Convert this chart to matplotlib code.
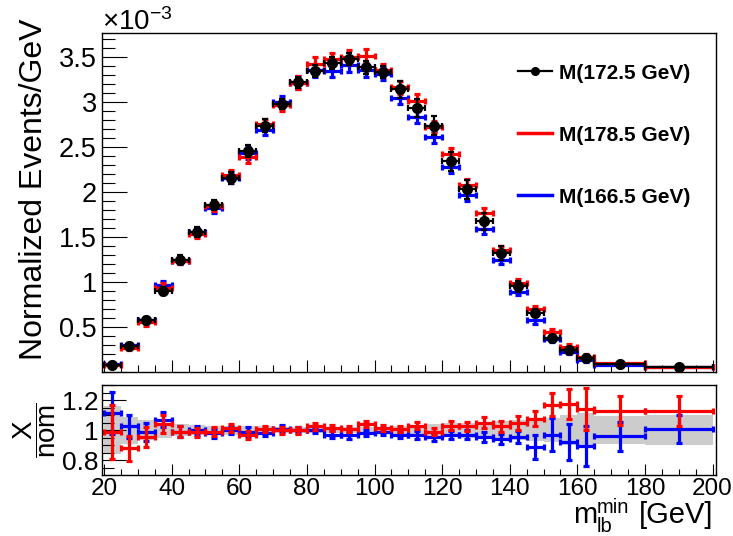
import numpy as np
import matplotlib
matplotlib.use('Agg')
from matplotlib import pyplot as plt
from matplotlib.ticker import MultipleLocator, FuncFormatter
from matplotlib.lines import Line2D

plt.rcParams['font.family'] = ['Liberation Sans', 'DejaVu Sans']
plt.rcParams['mathtext.fontset'] = 'custom'
plt.rcParams['mathtext.rm'] = 'Liberation Sans'
plt.rcParams['mathtext.it'] = 'Liberation Sans:italic'
plt.rcParams['mathtext.bf'] = 'Liberation Sans:bold'

### binning of m_lb^min (GeV)
edges = np.array([20, 25, 30, 35, 40, 45, 50, 55, 60, 65, 70, 75, 80, 85, 90, 95, 100,
                  105, 110, 115, 120, 125, 130, 135, 140, 145, 150, 155, 160, 165, 180, 200])

### normalized events / GeV, in units of 1e-3
nominal = [0.08, 0.29, 0.575, 0.90, 1.245, 1.555, 1.855, 2.155, 2.455, 2.735, 2.975, 3.215,
           3.345, 3.43, 3.475, 3.38, 3.325, 3.14, 2.93, 2.735, 2.34, 2.025, 1.67, 1.32,
           0.95, 0.65, 0.38, 0.24, 0.147, 0.084, 0.047]
mass_up = [0.08, 0.26, 0.55, 0.935, 1.235, 1.535, 1.84, 2.18, 2.38, 2.75, 2.965, 3.21,
           3.42, 3.47, 3.50, 3.51, 3.35, 3.16, 3.01, 2.72, 2.42, 2.08, 1.76, 1.35,
           0.99, 0.70, 0.44, 0.28, 0.168, 0.095, 0.053]
mass_down = [0.09, 0.295, 0.57, 0.96, 1.235, 1.555, 1.82, 2.155, 2.43, 2.69, 3.0, 3.21,
             3.35, 3.345, 3.405, 3.35, 3.31, 3.04, 2.83, 2.61, 2.27, 1.96, 1.59, 1.245,
             0.89, 0.58, 0.365, 0.22, 0.131, 0.080, 0.047]

### ratio panel (X / nominal)
ratio_up = [0.987, 0.878, 0.953, 1.04, 0.99, 0.986, 0.99, 1.013, 0.968, 1.007, 0.997, 0.997,
            1.025, 1.013, 1.007, 1.04, 1.013, 1.007, 1.03, 0.99, 1.03, 1.025, 1.05, 1.025,
            1.047, 1.075, 1.17, 1.175, 1.14, 1.13, 1.13]
ratio_up_err = [0.177, 0.083, 0.068, 0.06, 0.035, 0.03, 0.03, 0.028, 0.028, 0.022, 0.022, 0.022,
                0.022, 0.022, 0.022, 0.022, 0.022, 0.022, 0.025, 0.025, 0.028, 0.03, 0.035, 0.035,
                0.045, 0.05, 0.075, 0.10, 0.14, 0.097, 0.10]
ratio_down = [1.115, 1.025, 0.99, 1.07, 0.99, 1.0, 0.98, 1.0, 0.99, 0.98, 1.01, 1.0,
              1.0, 0.97, 0.965, 0.98, 0.99, 0.968, 0.968, 0.953, 0.968, 0.968, 0.953, 0.94,
              0.953, 0.89, 0.968, 0.923, 0.894, 0.957, 1.007]
ratio_down_err = [0.14, 0.075, 0.06, 0.05, 0.035, 0.03, 0.03, 0.028, 0.028, 0.022, 0.022, 0.022,
                  0.022, 0.022, 0.022, 0.022, 0.022, 0.022, 0.025, 0.025, 0.028, 0.03, 0.035, 0.035,
                  0.04, 0.08, 0.11, 0.12, 0.135, 0.095, 0.095]
# relative stat. uncertainty of the nominal sample (grey band)
nominal_rel_err = [0.16, 0.09, 0.065, 0.05, 0.04, 0.035, 0.03, 0.03, 0.028, 0.025, 0.02, 0.02,
                   0.02, 0.02, 0.02, 0.02, 0.02, 0.03, 0.035, 0.04, 0.045, 0.05, 0.055, 0.06,
                   0.065, 0.07, 0.08, 0.10, 0.115, 0.095, 0.10]

labels = ['M(172.5 GeV)', 'M(178.5 GeV)', 'M(166.5 GeV)']

centers = 0.5 * (edges[1:] + edges[:-1])
halfw = 0.5 * np.diff(edges)
nominal = np.array(nominal)
mass_up = np.array(mass_up)
mass_down = np.array(mass_down)
band = np.array(nominal_rel_err)

W, H = 733, 536
fig = plt.figure(figsize=(W / 100, H / 100), dpi=100)
ax = fig.add_axes([0.1387, 0.3065, 0.8381, 0.6319])
rax = fig.add_axes([0.1387, 0.1138, 0.8381, 0.1679])

### upper panel
ax.errorbar(centers, mass_down, xerr=halfw, yerr=mass_down * np.array(ratio_down_err),
            fmt='none', ecolor='#0000ff', elinewidth=2.3, capsize=2.2, capthick=2.3)
ax.errorbar(centers, mass_up, xerr=halfw, yerr=mass_up * np.array(ratio_up_err),
            fmt='none', ecolor='#ff0000', elinewidth=2.3, capsize=2.2, capthick=2.3)
ax.errorbar(centers, nominal, xerr=halfw, yerr=nominal * band,
            fmt='o', color='k', ms=7, elinewidth=1.6, capsize=2.2, capthick=1.6)

ax.set_xlim(19.3, 201.0)
ax.set_ylim(0, 3.763)
ax.xaxis.set_major_locator(MultipleLocator(20))
ax.xaxis.set_minor_locator(MultipleLocator(5))
ax.yaxis.set_major_locator(MultipleLocator(0.5))
ax.yaxis.set_minor_locator(MultipleLocator(0.1))
ax.yaxis.set_major_formatter(FuncFormatter(lambda v, p: '' if v == 0 else '%g' % v))
ax.tick_params(axis='x', which='both', direction='in', labelbottom=False, width=0.8)
ax.tick_params(axis='x', which='major', length=8.6)
ax.tick_params(axis='x', which='minor', length=4.8)
ax.tick_params(axis='y', which='both', direction='in', labelsize=19.5, pad=3.5, width=0.8)
ax.tick_params(axis='y', which='major', length=18)
ax.tick_params(axis='y', which='minor', length=9.4)
ax.text(0.0, 1.009, r'$\times$10$^{-3}$', transform=ax.transAxes, ha='left', va='baseline',
        fontsize=20)
fig.text(0.047, 1 - 18 / H, 'Normalized Events/GeV', rotation=90, ha='center', va='top',
         fontsize=23)

handles = [Line2D([], [], color='k', lw=1.6, marker='o', ms=5.5),
           Line2D([], [], color='#ff0000', lw=2.5),
           Line2D([], [], color='#0000ff', lw=2.5)]
leg = ax.legend(handles, labels, loc='upper left', bbox_to_anchor=(0.678, 0.91),
                frameon=False, borderpad=0, borderaxespad=0, handlelength=1.6,
                handletextpad=0.35, labelspacing=2.07, prop={'weight': 'bold', 'size': 15})

### ratio panel
rax.bar(centers, 2 * band, bottom=1 - band, width=2 * halfw, color='#cccccc', lw=0)
rax.errorbar(centers, ratio_down, xerr=halfw, yerr=ratio_down_err, fmt='none',
             ecolor='#0000ff', elinewidth=2.3, capsize=2.2, capthick=2.3)
rax.errorbar(centers, ratio_up, xerr=halfw, yerr=ratio_up_err, fmt='none',
             ecolor='#ff0000', elinewidth=2.3, capsize=2.2, capthick=2.3)
rax.set_xlim(19.3, 201.0)
rax.set_ylim(0.7, 1.3)
rax.xaxis.set_major_locator(MultipleLocator(20))
rax.xaxis.set_minor_locator(MultipleLocator(5))
rax.yaxis.set_major_locator(MultipleLocator(0.2))
rax.yaxis.set_minor_locator(MultipleLocator(0.05))
rax.yaxis.set_major_formatter(FuncFormatter(lambda v, p: '%g' % round(v, 2)))
rax.tick_params(axis='both', which='both', direction='in', width=0.8)
rax.tick_params(axis='x', labelsize=17.5)
rax.tick_params(axis='y', labelsize=19)
rax.tick_params(axis='x', which='major', length=8.0, pad=2)
rax.tick_params(axis='x', which='minor', length=4.3)
rax.tick_params(axis='y', which='major', length=17, pad=2)
rax.tick_params(axis='y', which='minor', length=8.6)
fig.text(0.047, 1 - 430 / H, r'$\dfrac{\mathrm{X}}{\mathrm{nom}}$', rotation=90,
         ha='center', va='center', fontsize=20)

# x title  m_lb^min [GeV]  (super/subscript stacked in one text; baseline = last line)
fig.text(573 / W, 1 - 523 / H, 'm', fontsize=21, ha='left', va='baseline')
fig.text(597 / W, 1 - 532 / H, 'min\nlb', fontsize=14.5, linespacing=1.0,
         ha='left', va='baseline')
fig.text(713 / W, 1 - 523 / H, '[GeV]', fontsize=21, ha='right', va='baseline')

for a in (ax, rax):
    for s in a.spines.values():
        s.set_linewidth(1.0)

plt.savefig('out.png', dpi=100)
